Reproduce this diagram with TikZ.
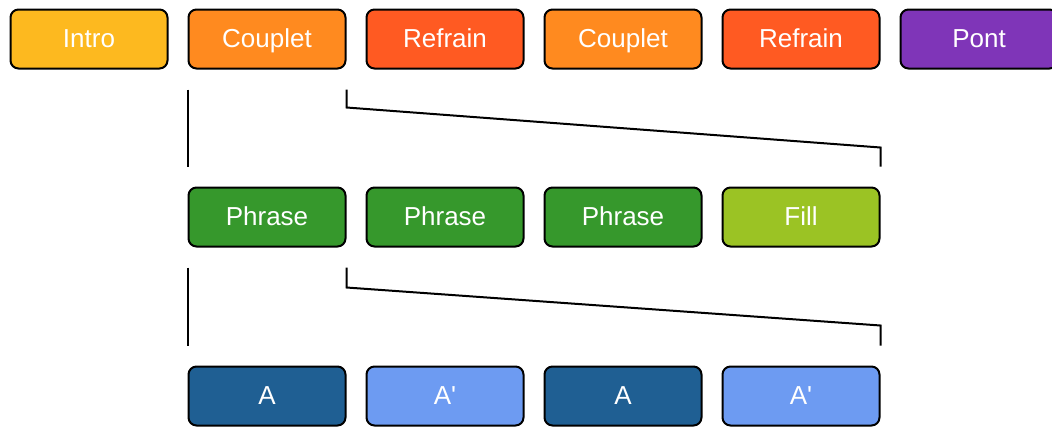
\documentclass[tikz,border=0pt]{standalone}
\usepackage{fontspec}
\setmainfont{Liberation Sans}
\definecolor{cintro}{HTML}{FDB91F}
\definecolor{ccouplet}{HTML}{FF8A1F}
\definecolor{crefrain}{HTML}{FF5A22}
\definecolor{cpont}{HTML}{7F35B8}
\definecolor{cphrase}{HTML}{36982C}
\definecolor{cfill}{HTML}{9BC324}
\definecolor{cA}{HTML}{1F5F93}
\definecolor{cAp}{HTML}{6D9BF2}
\begin{document}
\begin{tikzpicture}[x=1pt,y=-1pt,
  blk/.style={draw=black, line width=2pt, rounded corners=8pt, minimum width=157pt, minimum height=59pt, text=white, font=\fontsize{26}{29}\selectfont, inner sep=0pt, text height=19pt, text depth=2pt},
  conn/.style={line width=2pt, draw=black}]
\useasboundingbox (0,0) rectangle (1052,426);
\clip (0,0) rectangle (1052,426);
% row 1
\node[blk, fill=cintro] (r1a) at (89,39) {Intro};
\node[blk, fill=ccouplet] (r1b) at (267,39) {Couplet};
\node[blk, fill=crefrain] (r1c) at (445,39) {Refrain};
\node[blk, fill=ccouplet] (r1d) at (623,39) {Couplet};
\node[blk, fill=crefrain] (r1e) at (801,39) {Refrain};
\node[blk, fill=cpont] (r1f) at (979,39) {Pont};
% row 2
\node[blk, fill=cphrase] (r2a) at (267,217) {Phrase};
\node[blk, fill=cphrase] (r2b) at (445,217) {Phrase};
\node[blk, fill=cphrase] (r2c) at (623,217) {Phrase};
\node[blk, fill=cfill] (r2d) at (801,217) {Fill};
% row 3
\node[blk, fill=cA] (r3a) at (267,396) {A};
\node[blk, fill=cAp] (r3b) at (445,396) {A\textquotesingle};
\node[blk, fill=cA] (r3c) at (623,396) {A};
\node[blk, fill=cAp] (r3d) at (801,396) {A\textquotesingle};
% connectors level 1
\coordinate (p1a) at ([yshift=-20pt]r1b.south west);
\coordinate (p1b) at ([yshift=20pt]r2a.north west);
\coordinate (p1c) at ([yshift=-20pt]r1b.south east);
\coordinate (p1d) at ([yshift=-38pt]r1b.south east);
\coordinate (p1f) at ([yshift=20pt]r2d.north east);
\coordinate (p1e) at ([yshift=19pt]p1f);
\draw[conn] (p1a) -- (p1b);
\draw[conn] (p1c) -- (p1d) -- (p1e) -- (p1f);
% connectors level 2
\coordinate (p2a) at ([yshift=-20pt]r2a.south west);
\coordinate (p2b) at ([yshift=20pt]r3a.north west);
\coordinate (p2c) at ([yshift=-20pt]r2a.south east);
\coordinate (p2d) at ([yshift=-40pt]r2a.south east);
\coordinate (p2f) at ([yshift=20pt]r3d.north east);
\coordinate (p2e) at ([yshift=20pt]p2f);
\draw[conn] (p2a) -- (p2b);
\draw[conn] (p2c) -- (p2d) -- (p2e) -- (p2f);
\end{tikzpicture}
\end{document}
